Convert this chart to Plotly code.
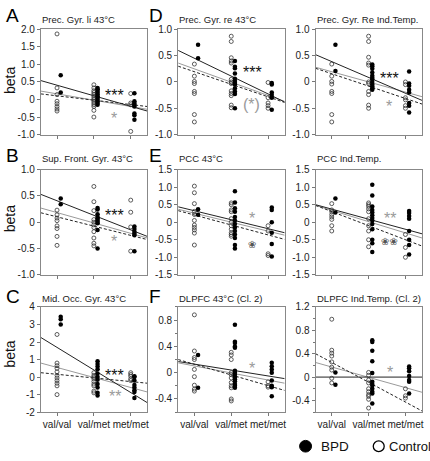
import plotly.graph_objects as go

FONT = "Liberation Sans, Arial, Helvetica, sans-serif"
W, H = 430, 461

# ---------------- data ----------------
CATEGORIES = ["val/val", "val/met", "met/met"]
CAT_POS = [1, 2, 3]

# Panel A  Prec. Gyr. li 43°C
A_ctrl = [[1.87, 0.33, 0.14, -0.05, -0.12, -0.2, -0.27, -0.33],
          [0.42, 0.33, 0.25, 0.2, 0.15, 0.1, 0.05, 0.0, -0.05, -0.1, -0.15, -0.2, -0.31, -0.5],
          [0.17, -0.1, -0.15, -0.91]]
A_bpd = [[0.69, 0.2],
         [0.33, 0.29, 0.24, 0.19, 0.14, 0.09, 0.04, -0.01, -0.06, -0.1, -0.15],
         [0.18, -0.05, -0.1, -0.15, -0.2, -0.4, -0.45, -0.58]]
A_fit_black = [0.54, -0.33]
A_fit_gray = [0.24, -0.28]
A_fit_dash = [0.16, -0.2]
A_stars = [(2.57, 0.24, "***", "black"), (2.55, -0.42, "*", "gray")]

# Panel B  Sup. Front. Gyr. 43°C
B_ctrl = [[0.23, 0.14, 0.08, 0.03, -0.07, -0.12, -0.27, -0.44],
          [0.68, 0.39, 0.22, 0.05, 0.0, -0.05, -0.1, -0.18, -0.3, -0.4, -0.45],
          [0.42, 0.19, -0.09, -0.55]]
B_bpd = [[0.45, 0.34],
         [0.27, 0.24, 0.15, 0.1, 0.07, 0.04, 0.01, -0.02, -0.15, -0.5],
         [-0.08, -0.13, -0.18, -0.25, -0.22, -0.55]]
B_fit_black = [0.53, -0.27]
B_fit_gray = [0.27, -0.3]
B_fit_dash = [0.18, -0.33]
B_stars = [(2.57, 0.2, "***", "black"), (2.55, -0.3, "*", "gray")]

# Panel C  Mid. Occ. Gyr. 43°C
C_ctrl = [[2.43, 0.8, 0.65, 0.5, 0.3, 0.1, -0.05, -0.2, -0.35, -0.5, -1.0],
          [0.25, 0.1, 0.0, -0.1, -0.25, -0.4, -0.5, -0.8, -0.9],
          [0.25, 0.15, 0.05, -0.1, -0.2]]
C_bpd = [[3.44, 3.3, 3.0],
         [0.9, 0.75, 0.6, 0.45, 0.2, 0.0, -0.15, -0.4, -0.6, -0.9, -1.05],
         [0.05, 0.0, -0.2, -0.45, -0.6, -0.75, -0.85, -1.2]]
C_fit_black = [2.26, -1.46]
C_fit_gray = [0.8, -0.85]
C_fit_dash = [0.25, -0.35]
C_stars = [(2.57, 0.3, "***", "black"), (2.57, -0.9, "**", "gray")]

# Panel D  Prec. Gyr. re 43°C
D_ctrl = [[0.34, 0.11, 0.01, -0.03, -0.18, -0.22, -0.62, -0.76],
          [0.87, 0.77, 0.46, 0.4, 0.36, 0.05, 0.0, -0.03, -0.17, -0.22, -0.26, -0.44, -0.49],
          [-0.01, -0.3, -0.4, -0.45, -0.5]]
D_bpd = [[0.71, 0.45],
         [0.4, 0.29, 0.26, 0.16, 0.06, 0.02, -0.02, -0.05, -0.12, -0.18, -0.23, -0.5],
         [-0.02, -0.05, -0.2, -0.25, -0.3, -0.53]]
D_fit_black = [0.6, -0.38]
D_fit_gray = [0.36, -0.37]
D_fit_dash = [0.3, -0.39]
D_stars = [(2.57, 0.25, "***", "black"), (2.55, -0.35, "(*)", "gray")]

# Panel G  Prec. Gyr. Re Ind.Temp.
G_ctrl = [[0.34, 0.11, 0.01, -0.04, -0.18, -0.22, -0.62, -0.76],
          [0.87, 0.77, 0.47, 0.36, 0.32, 0.0, -0.03, -0.18, -0.24, -0.44, -0.5],
          [0.0, -0.05, -0.3, -0.34, -0.45, -0.5]]
G_bpd = [[0.71, 0.21],
         [0.33, 0.3, 0.25, 0.18, 0.12, 0.08, 0.05, 0.0, -0.05, -0.08, -0.12, -0.15],
         [0.2, -0.03, -0.07, -0.15, -0.2, -0.4, -0.45, -0.58]]
G_fit_black = [0.52, -0.35]
G_fit_gray = [0.28, -0.28]
G_fit_dash = [0.26, -0.42]
G_stars = [(2.57, 0.14, "***", "black"), (2.55, -0.39, "*", "gray")]

# Panel E  PCC 43°C
E_ctrl = [[1.03, 0.84, 0.53, 0.31, 0.22, 0.05, -0.08, -0.15, -0.22, -0.31, -0.65],
          [0.55, 0.5, 0.35, 0.3, 0.1, 0.0, -0.1, -0.2, -0.3, -0.35, -0.4],
          [-0.1, -0.25, -0.9, -0.95]]
E_bpd = [[0.37, 0.21],
         [0.88, 0.56, 0.4, 0.3, 0.15, 0.05, -0.05, -0.15, -0.25, -0.35, -0.45, -0.65, -0.75],
         [0.42, 0.35, 0.0, -0.3, -0.62, -0.98]]
E_fit_black = [0.44, -0.3]
E_fit_gray = [0.37, -0.37]
E_fit_dash = [0.33, -0.49]
E_stars = [(2.57, 0.23, "*", "gray"), (2.55, -0.63, "❀", "open")]

# Panel H  PCC Ind.Temp.
H_ctrl = [[0.53, 0.35, 0.3, 0.22, 0.15, 0.08, -0.1, -0.25],
          [0.55, 0.5, 0.45, 0.38, 0.3, 0.1, -0.1, -0.25, -0.5, -0.7],
          [-0.35, -0.72, -1.0]]
H_bpd = [[0.68, 0.28],
         [1.07, 0.76, 0.45, 0.35, 0.28, 0.2, 0.12, 0.05, -0.05, -0.2, -0.5, -0.6, -0.85],
         [0.32, 0.26, 0.18, 0.1, -0.25, -0.5, -0.65, -0.92]]
H_fit_black = [0.5, -0.33]
H_fit_gray = [0.48, -0.45]
H_fit_dash = [0.48, -0.68]
H_stars = [(2.57, 0.23, "**", "gray"), (2.57, -0.55, "❀❀", "open")]

# Panel F  DLPFC 43°C (Cl. 2)
F_ctrl = [[0.88, 0.33, 0.23, 0.2, 0.05, -0.06, -0.19, -0.25, -0.28],
          [0.31, 0.27, 0.2, 0.0, -0.03, -0.08, -0.15, -0.2, -0.23, -0.4, -0.43],
          [-0.14, -0.2, -0.22]]
F_bpd = [[0.27, -0.23],
         [0.73, 0.47, 0.45, 0.4, 0.38, 0.03, 0.0, -0.03, -0.07, -0.1, -0.13, -0.17, -0.2, -0.23],
         [0.15, 0.1, 0.05, 0.0, -0.12, -0.2, -0.22, -0.36]]
F_fit_black = [0.17, -0.09]
F_fit_gray = [0.15, -0.16]
F_fit_dash = [0.2, -0.27]
F_stars = [(2.57, 0.13, "*", "gray")]

# Panel I  DLPFC Ind.Temp. (Cl. 2)
I_ctrl = [[0.99, 0.46, 0.41, 0.36, 0.26, 0.17, 0.12, -0.02, -0.1],
          [0.08, 0.03, -0.05, -0.1, -0.2, -0.25, -0.3, -0.33, -0.38, -0.53],
          [-0.2, -0.32, -0.36]]
I_bpd = [[0.08, -0.13],
         [0.63, 0.6, 0.45, 0.27, 0.07, -0.08, -0.12, -0.15, -0.2, -0.25, -0.28, -0.45],
         [0.18, 0.15, 0.1, 0.02, -0.05, -0.08, -0.28]]
I_fit_black = [0.0, 0.0]
I_fit_gray = [0.25, -0.26]
I_fit_dash = [0.4, -0.58]
I_stars = [(2.57, 0.14, "*", "gray")]

TICKS_1 = [-1.0, -0.5, 0, 0.5, 1.0]
TICKS_1_TXT = ["-1.0", "-0.5", "0", "0.5", "1.0"]
TICKS_A = [-1.0, -0.5, 0, 0.5, 1.0, 1.5, 2.0]
TICKS_A_TXT = ["-1.0", "-0.5", "0", "0.5", "1.0", "1.5", "2.0"]
TICKS_C = [-2, -1, 0, 1, 2, 3, 4]
TICKS_C_TXT = ["-2", "-1", "0", "1", "2", "3", "4"]
TICKS_E = [-1.5, -1.0, -0.5, 0, 0.5, 1.0, 1.5]
TICKS_E_TXT = ["-1.5", "-1.0", "-0.5", "0", "0.5", "1.0", "1.5"]
TICKS_F = [-0.4, 0, 0.4, 0.8]
TICKS_F_TXT = ["-0.4", "0", "0.4", "0.8"]
TICKS_I = [-0.4, 0, 0.4, 0.8, 1.2]
TICKS_I_TXT = ["-0.4", "0", "0.4", "0.8", "1.2"]

# ---------------- layout helpers ----------------
COLS_PX = [(41, 148), (179, 286), (317, 424)]
ROWS_PX = [(24, 132), (168, 276), (309, 417)]
XR = [0.56, 3.45]
BPD_OFF = 0.1

panels = [
    dict(ctrl=A_ctrl, bpd=A_bpd, fb=A_fit_black, fg=A_fit_gray, fd=A_fit_dash, yr=[-1, 2],
         tv=TICKS_A, tt=TICKS_A_TXT, title="Prec. Gyr. li 43°C", letter="A", stars=A_stars, r=0, c=0),
    dict(ctrl=D_ctrl, bpd=D_bpd, fb=D_fit_black, fg=D_fit_gray, fd=D_fit_dash, yr=[-1, 1],
         tv=TICKS_1, tt=TICKS_1_TXT, title="Prec. Gyr. re 43°C", letter="D", stars=D_stars, r=0, c=1),
    dict(ctrl=G_ctrl, bpd=G_bpd, fb=G_fit_black, fg=G_fit_gray, fd=G_fit_dash, yr=[-1, 1],
         tv=TICKS_1, tt=TICKS_1_TXT, title="Prec. Gyr. Re Ind.Temp.", letter="", stars=G_stars, r=0, c=2),
    dict(ctrl=B_ctrl, bpd=B_bpd, fb=B_fit_black, fg=B_fit_gray, fd=B_fit_dash, yr=[-1, 1],
         tv=TICKS_1, tt=TICKS_1_TXT, title="Sup. Front. Gyr. 43°C", letter="B", stars=B_stars, r=1, c=0),
    dict(ctrl=E_ctrl, bpd=E_bpd, fb=E_fit_black, fg=E_fit_gray, fd=E_fit_dash, yr=[-1.5, 1.5],
         tv=TICKS_E, tt=TICKS_E_TXT, title="PCC 43°C", letter="E", stars=E_stars, r=1, c=1),
    dict(ctrl=H_ctrl, bpd=H_bpd, fb=H_fit_black, fg=H_fit_gray, fd=H_fit_dash, yr=[-1.5, 1.5],
         tv=TICKS_E, tt=TICKS_E_TXT, title="PCC Ind.Temp.", letter="", stars=H_stars, r=1, c=2),
    dict(ctrl=C_ctrl, bpd=C_bpd, fb=C_fit_black, fg=C_fit_gray, fd=C_fit_dash, yr=[-2, 4],
         tv=TICKS_C, tt=TICKS_C_TXT, title="Mid. Occ. Gyr. 43°C", letter="C", stars=C_stars, r=2, c=0),
    dict(ctrl=F_ctrl, bpd=F_bpd, fb=F_fit_black, fg=F_fit_gray, fd=F_fit_dash, yr=[-0.6, 1.0],
         tv=TICKS_F, tt=TICKS_F_TXT, title="DLPFC 43°C (Cl. 2)", letter="F", stars=F_stars, r=2, c=1),
    dict(ctrl=I_ctrl, bpd=I_bpd, fb=I_fit_black, fg=I_fit_gray, fd=I_fit_dash, yr=[-0.6, 1.2],
         tv=TICKS_I, tt=TICKS_I_TXT, title="DLPFC Ind.Temp. (Cl. 2)", letter="", stars=I_stars, r=2, c=2),
]

TITLE_BASE = [17, 160, 304]
LETTER_MID = [10, 154, 298]
BETA_MID = [76, 218, 357]


def py(px):
    return 1 - px / H


def px_x(px):
    return px / W


fig = go.Figure()
annotations = []
layout_axes = {}

for k, p in enumerate(panels):
    n = k + 1
    xa = "x" if n == 1 else f"x{n}"
    ya = "y" if n == 1 else f"y{n}"
    c0, c1 = COLS_PX[p["c"]]
    r0, r1 = ROWS_PX[p["r"]]

    # points
    xs_c, ys_c, xs_b, ys_b = [], [], [], []
    for i, pos in enumerate(CAT_POS):
        xs_c += [pos] * len(p["ctrl"][i])
        ys_c += p["ctrl"][i]
        xs_b += [pos + BPD_OFF] * len(p["bpd"][i])
        ys_b += p["bpd"][i]

    # fits
    fig.add_trace(go.Scatter(x=XR, y=p["fg"], mode="lines", xaxis=xa, yaxis=ya,
                             line=dict(color="#9a9a9a", width=1), showlegend=False, hoverinfo="skip"))
    fig.add_trace(go.Scatter(x=XR, y=p["fd"], mode="lines", xaxis=xa, yaxis=ya,
                             line=dict(color="#222", width=1, dash="3px,2px"), showlegend=False, hoverinfo="skip"))
    fig.add_trace(go.Scatter(x=XR, y=p["fb"], mode="lines", xaxis=xa, yaxis=ya,
                             line=dict(color="#222", width=1), showlegend=False, hoverinfo="skip"))
    fig.add_trace(go.Scatter(x=xs_c, y=ys_c, mode="markers", xaxis=xa, yaxis=ya, name="Control",
                             marker=dict(symbol="circle-open", size=4, color="#333",
                                         line=dict(width=0.8, color="#333")), showlegend=False))
    fig.add_trace(go.Scatter(x=xs_b, y=ys_b, mode="markers", xaxis=xa, yaxis=ya, name="BPD",
                             marker=dict(symbol="circle", size=4.5, color="#000"), showlegend=False))

    bottom = p["r"] == 2
    layout_axes["xaxis" if n == 1 else f"xaxis{n}"] = dict(
        domain=[px_x(c0), px_x(c1)], anchor=ya, range=XR,
        tickvals=CAT_POS, ticktext=CATEGORIES, showticklabels=bottom, tickangle=0,
        ticks="outside", ticklen=3, tickcolor="#777", tickwidth=1,
        showline=True, linecolor="#888", linewidth=1, mirror=True,
        showgrid=False, zeroline=False,
        tickfont=dict(family=FONT, size=10, color="#222"), fixedrange=True)
    yax = dict(
        domain=[py(r1), py(r0)], anchor=xa, range=p["yr"],
        tickvals=p["tv"], ticktext=p["tt"],
        ticks="outside", ticklen=3, tickcolor="#777", tickwidth=1,
        showline=True, linecolor="#888", linewidth=1, mirror=True,
        showgrid=False, zeroline=False,
        tickfont=dict(family=FONT, size=10, color="#222"), fixedrange=True)
    if p["r"] == 2 and p["c"] > 0:
        yax["minor"] = dict(dtick=0.2, ticks="outside", ticklen=2, tickcolor="#777", showgrid=False)
    layout_axes["yaxis" if n == 1 else f"yaxis{n}"] = yax

    # title
    annotations.append(dict(text=p["title"], xref="paper", yref="paper",
                            x=px_x(c0 - 1), y=py(TITLE_BASE[p["r"]] - 3.5), xanchor="left", yanchor="middle",
                            showarrow=False, font=dict(family=FONT, size=9.5, color="#222")))
    # letter
    if p["letter"]:
        lx = 4 if p["c"] == 0 else 148
        annotations.append(dict(text=p["letter"], xref="paper", yref="paper",
                                x=px_x(lx), y=py(LETTER_MID[p["r"]]), xanchor="left", yanchor="middle",
                                showarrow=False, font=dict(family=FONT, size=19, color="#000")))
    # beta
    if p["c"] == 0:
        annotations.append(dict(text="beta", xref="paper", yref="paper", textangle=-90,
                                x=px_x(10), y=py(BETA_MID[p["r"]]), xanchor="center", yanchor="middle",
                                showarrow=False, font=dict(family=FONT, size=14, color="#111")))
    # significance markers
    for (sx, sy, st, sc) in p["stars"]:
        if sc == "open":
            annotations.append(dict(text=st, xref=xa, yref=ya, x=sx, y=sy, showarrow=False,
                                    xanchor="center", yanchor="middle",
                                    font=dict(family="DejaVu Sans", size=10, color="#555")))
        else:
            col = "#111" if sc == "black" else "#9a9a9a"
            annotations.append(dict(text=st, xref=xa, yref=ya, x=sx, y=sy, showarrow=False,
                                    xanchor="center", yanchor="middle", yshift=-4,
                                    font=dict(family=FONT, size=16, color=col)))

# legend (drawn manually)
LEG_Y = 452
shapes = [
    dict(type="circle", xref="paper", yref="paper",
         x0=px_x(301), x1=px_x(313), y0=py(LEG_Y + 6), y1=py(LEG_Y - 6),
         fillcolor="#000", line=dict(color="#000", width=1)),
    dict(type="circle", xref="paper", yref="paper",
         x0=px_x(375), x1=px_x(386), y0=py(LEG_Y + 5.5), y1=py(LEG_Y - 5.5),
         fillcolor="rgba(0,0,0,0)", line=dict(color="#000", width=1.3)),
]
annotations.append(dict(text="BPD", xref="paper", yref="paper", x=px_x(320), y=py(LEG_Y),
                        xanchor="left", yanchor="middle", showarrow=False,
                        font=dict(family=FONT, size=13.5, color="#111")))
annotations.append(dict(text="Control", xref="paper", yref="paper", x=px_x(389), y=py(LEG_Y),
                        xanchor="left", yanchor="middle", showarrow=False,
                        font=dict(family=FONT, size=13, color="#111")))

fig.update_layout(
    width=W, height=H, autosize=False,
    margin=dict(l=0, r=0, t=0, b=0),
    paper_bgcolor="white", plot_bgcolor="white",
    showlegend=False,
    annotations=annotations, shapes=shapes,
    **layout_axes,
)

fig.write_html("out.html",
               config={"displayModeBar": False, "staticPlot": True},
               post_script="document.body.style.margin='0';document.body.style.padding='0';")
